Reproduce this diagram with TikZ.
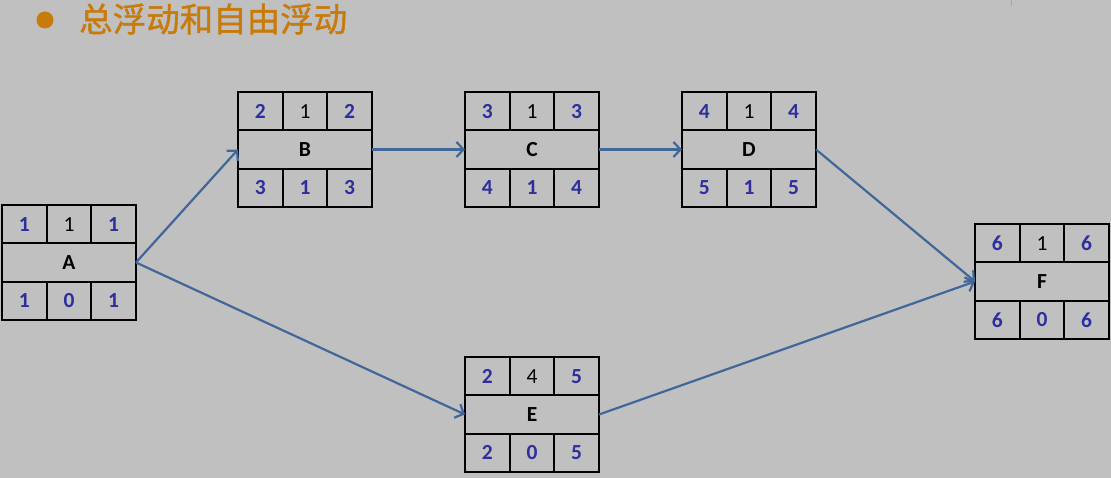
\documentclass[tikz,border=0pt]{standalone}
\usepackage{fontspec}
\setmainfont{Carlito}
\newfontfamily\cjk{Noto Sans CJK SC}[FakeBold=1.2]
\usetikzlibrary{arrows.meta}
\definecolor{bg}{HTML}{C0C0C0}
\definecolor{numblue}{HTML}{2E2E9E}
\definecolor{arrblue}{HTML}{41669A}
\definecolor{titleorange}{HTML}{C87A0A}
\tikzset{
  cell/.style={draw=black,line width=2pt,minimum width=44.67pt,minimum height=38.33pt,
    inner sep=0pt,outer sep=0pt,anchor=north west,
    font=\fontsize{21.5}{21.5}\selectfont\bfseries,text=numblue},
  durcell/.style={cell,font=\fontsize{21.5}{21.5}\selectfont,text=black},
  namecell/.style={draw=black,line width=2pt,minimum width=134pt,minimum height=38.33pt,
    inner sep=0pt,outer sep=0pt,anchor=north west,
    font=\fontsize{21.5}{21.5}\selectfont\bfseries,text=black},
  arr/.style={draw=arrblue,line width=2.2pt,-{Straight Barb[length=7pt,width=15pt,line width=2.2pt]}}
}
\newcommand{\actbox}[9]{%
  \node[cell] (#1tl) at (#2,#3) {#4};
  \node[durcell] (#1tm) at (#2+44.67,#3) {#5};
  \node[cell] (#1tr) at (#2+89.33,#3) {#6};
  \node[namecell] (#1) at (#2,#3+38.33) {#7};
  \node[cell] (#1bl) at (#2,#3+76.67) {#8};
  \node[cell] (#1bm) at (#2+44.67,#3+76.67) {#9};
}
\newcommand{\actright}[4]{\node[cell] (#1br) at (#2+89.33,#3+76.67) {#4};}
\begin{document}
\begin{tikzpicture}[x=1pt,y=-1pt]
\fill[bg] (0,0) rectangle (1111,478);
\useasboundingbox (0,0) rectangle (1111,478);
% title
\fill[titleorange] (45,20) circle (8.5);
\node[anchor=west,inner sep=0pt,text=titleorange,font=\cjk\fontsize{33.5}{33.5}\selectfont] (title) at (79,19) {总浮动和自由浮动};
\draw[gray!70,line width=0.6pt] (1011,0) -- (1011,6);
% boxes
\actbox{A}{2}{205}{1}{1}{1}{A}{1}{0}\actright{A}{2}{205}{1}
\actbox{B}{238}{92}{2}{1}{2}{B}{3}{1}\actright{B}{238}{92}{3}
\actbox{C}{465}{92}{3}{1}{3}{C}{4}{1}\actright{C}{465}{92}{4}
\actbox{D}{682}{92}{4}{1}{4}{D}{5}{1}\actright{D}{682}{92}{5}
\actbox{E}{465}{357}{2}{4}{5}{E}{2}{0}\actright{E}{465}{357}{5}
\actbox{F}{975}{224}{6}{1}{6}{F}{6}{0}\actright{F}{975}{224}{6}
% connectors
\draw[arr] (A.east) -- (B.west);
\draw[arr] (B.east) -- (C.west);
\draw[arr] (C.east) -- (D.west);
\draw[arr] (D.east) -- (F.west);
\draw[arr] (A.east) -- (E.west);
\draw[arr] (E.east) -- (F.west);
\end{tikzpicture}
\end{document}
